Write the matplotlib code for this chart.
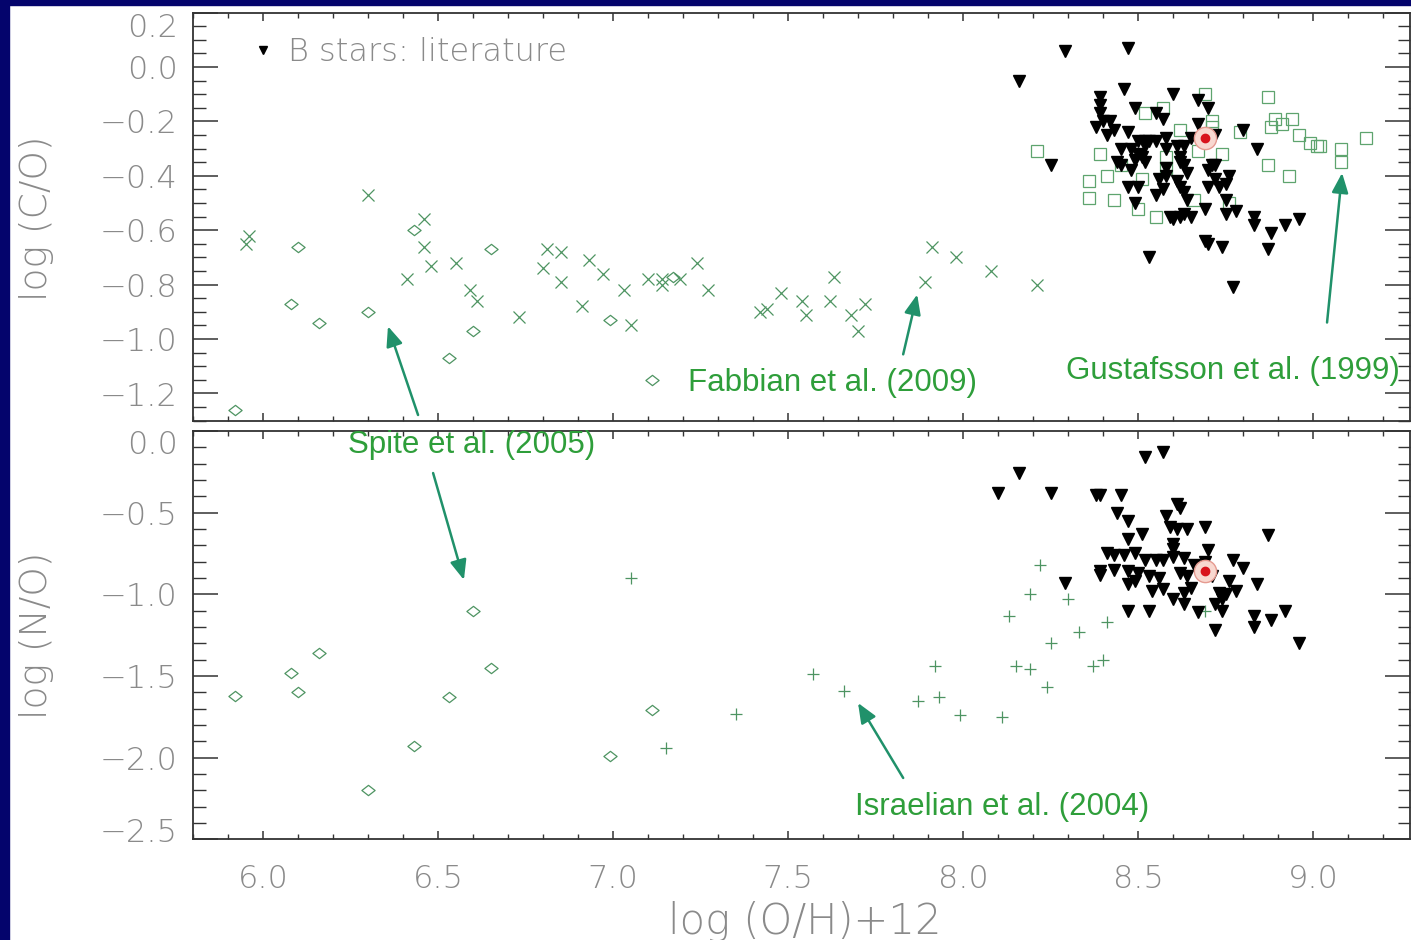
import numpy as np
import matplotlib
matplotlib.use("Agg")
import matplotlib.pyplot as plt
import matplotlib.transforms as mtransforms
from matplotlib.path import Path
from matplotlib.patches import Rectangle
from matplotlib.lines import Line2D
from matplotlib.ticker import MultipleLocator

# --- data: (log(O/H)+12, log ratio) ---
# B stars from the literature, log(C/O)
bstars_co = [
    (8.29, 0.06), (8.47, 0.07), (8.16, -0.05), (8.46, -0.08), (8.60, -0.10), (8.67, -0.12),
    (8.70, -0.15), (8.39, -0.11), (8.39, -0.14), (8.39, -0.17), (8.38, -0.22), (8.40, -0.20),
    (8.42, -0.20), (8.43, -0.23), (8.41, -0.25), (8.49, -0.15), (8.55, -0.17), (8.57, -0.19),
    (8.47, -0.24), (8.67, -0.21), (8.80, -0.23), (8.84, -0.30), (8.25, -0.36), (8.50, -0.27),
    (8.52, -0.27), (8.53, -0.27), (8.55, -0.27), (8.58, -0.26), (8.61, -0.29), (8.63, -0.29),
    (8.65, -0.26), (8.72, -0.25), (8.45, -0.30), (8.48, -0.30), (8.52, -0.29), (8.50, -0.32),
    (8.58, -0.30), (8.62, -0.33), (8.71, -0.36), (8.72, -0.36), (8.44, -0.35), (8.45, -0.36),
    (8.49, -0.34), (8.51, -0.33), (8.52, -0.35), (8.58, -0.37), (8.62, -0.35), (8.63, -0.36),
    (8.70, -0.38), (8.48, -0.38), (8.56, -0.41), (8.58, -0.40), (8.61, -0.42), (8.64, -0.39),
    (8.72, -0.41), (8.76, -0.40), (8.47, -0.44), (8.50, -0.44), (8.55, -0.47), (8.57, -0.45),
    (8.62, -0.44), (8.63, -0.46), (8.70, -0.44), (8.73, -0.44), (8.75, -0.43), (8.49, -0.50),
    (8.64, -0.49), (8.69, -0.52), (8.75, -0.49), (8.78, -0.53), (8.59, -0.55), (8.60, -0.56),
    (8.62, -0.55), (8.63, -0.54), (8.65, -0.55), (8.75, -0.54), (8.83, -0.55), (8.83, -0.58),
    (8.88, -0.61), (8.92, -0.58), (8.96, -0.56), (8.69, -0.64), (8.70, -0.65), (8.74, -0.66),
    (8.87, -0.67), (8.53, -0.70), (8.77, -0.81),
]

# Gustafsson et al. (1999), log(C/O)
gustafsson_co = [
    (8.21, -0.31), (8.87, -0.11), (8.69, -0.10), (8.57, -0.15), (8.52, -0.17), (8.71, -0.20),
    (8.71, -0.22), (8.62, -0.23), (8.79, -0.24), (8.89, -0.19), (8.91, -0.21), (8.94, -0.19),
    (8.88, -0.22), (8.96, -0.25), (8.99, -0.28), (9.01, -0.29), (9.02, -0.29), (9.08, -0.30),
    (9.08, -0.35), (9.15, -0.26), (8.39, -0.32), (8.41, -0.40), (8.36, -0.42), (8.36, -0.48),
    (8.43, -0.49), (8.50, -0.52), (8.55, -0.55), (8.51, -0.41), (8.58, -0.37), (8.67, -0.31),
    (8.74, -0.32), (8.87, -0.36), (8.93, -0.40), (8.76, -0.50), (8.66, -0.49), (8.45, -0.36),
    (8.58, -0.33),
]

# Fabbian et al. (2009), log(C/O)
fabbian_co = [
    (6.30, -0.47), (5.95, -0.65), (5.96, -0.62), (6.46, -0.56), (6.46, -0.66), (6.48, -0.73),
    (6.41, -0.78), (6.55, -0.72), (6.59, -0.82), (6.61, -0.86), (6.81, -0.67), (6.85, -0.68),
    (6.80, -0.74), (6.85, -0.79), (6.93, -0.71), (6.97, -0.76), (7.03, -0.82), (6.91, -0.88),
    (6.73, -0.92), (7.05, -0.95), (7.10, -0.78), (7.14, -0.78), (7.14, -0.80), (7.19, -0.78),
    (7.24, -0.72), (7.27, -0.82), (7.42, -0.90), (7.44, -0.89), (7.48, -0.83), (7.54, -0.86),
    (7.55, -0.91), (7.63, -0.77), (7.62, -0.86), (7.68, -0.91), (7.72, -0.87), (7.70, -0.97),
    (7.89, -0.79), (7.91, -0.66), (7.98, -0.70), (8.08, -0.75), (8.21, -0.80),
]

# Spite et al. (2005), log(C/O) and log(N/O)
spite_co = [
    (5.92, -1.26), (6.10, -0.66), (6.08, -0.87), (6.16, -0.94), (6.30, -0.90), (6.43, -0.60),
    (6.60, -0.97), (6.53, -1.07), (6.65, -0.67), (6.99, -0.93), (7.17, -0.77), (7.11, -1.15),
]
spite_no = [
    (5.92, -1.62), (6.08, -1.48), (6.10, -1.60), (6.16, -1.36), (6.30, -2.20), (6.43, -1.93),
    (6.53, -1.63), (6.60, -1.10), (6.65, -1.45), (6.99, -1.99), (7.11, -1.71),
]

# Israelian et al. (2004), log(N/O)
israelian_no = [
    (7.05, -0.90), (7.15, -1.94), (7.35, -1.73), (7.57, -1.49), (7.66, -1.59), (7.92, -1.44),
    (7.87, -1.65), (7.93, -1.63), (7.99, -1.74), (8.11, -1.75), (8.22, -0.82), (8.19, -1.00),
    (8.30, -1.03), (8.13, -1.13), (8.41, -1.17), (8.33, -1.23), (8.25, -1.30), (8.15, -1.44),
    (8.19, -1.46), (8.37, -1.44), (8.40, -1.40), (8.24, -1.57), (8.69, -1.10),
]

# B stars from the literature, log(N/O)
bstars_no = [
    (8.52, -0.16), (8.57, -0.13), (8.16, -0.26), (8.10, -0.38), (8.25, -0.38), (8.38, -0.39),
    (8.39, -0.39), (8.45, -0.39), (8.61, -0.45), (8.62, -0.47), (8.44, -0.50), (8.47, -0.55),
    (8.58, -0.52), (8.59, -0.59), (8.61, -0.60), (8.64, -0.60), (8.69, -0.59), (8.51, -0.63),
    (8.47, -0.66), (8.60, -0.69), (8.60, -0.72), (8.87, -0.64), (8.70, -0.73), (8.41, -0.75),
    (8.43, -0.76), (8.46, -0.76), (8.49, -0.75), (8.52, -0.79), (8.55, -0.79), (8.57, -0.79),
    (8.60, -0.77), (8.63, -0.78), (8.66, -0.82), (8.69, -0.80), (8.77, -0.79), (8.80, -0.84),
    (8.39, -0.86), (8.39, -0.88), (8.43, -0.85), (8.47, -0.86), (8.50, -0.87), (8.47, -0.94),
    (8.49, -0.92), (8.53, -0.89), (8.56, -0.90), (8.62, -0.87), (8.64, -0.89), (8.71, -0.89),
    (8.76, -0.92), (8.84, -0.94), (8.54, -0.98), (8.57, -0.97), (8.60, -1.03), (8.63, -0.99),
    (8.65, -0.96), (8.63, -1.06), (8.73, -0.99), (8.74, -1.03), (8.75, -1.00), (8.78, -0.98),
    (8.72, -1.06), (8.74, -1.10), (8.47, -1.10), (8.53, -1.10), (8.67, -1.11), (8.92, -1.10),
    (8.83, -1.13), (8.88, -1.16), (8.83, -1.20), (8.72, -1.22), (8.96, -1.30), (8.29, -0.93),
]

# solar values
sun_oh = 8.69
sun_co = -0.26
sun_no = -0.86

NAVY = "#04046c"
GREEN_MK = "#4e9462"
GREEN_TXT = "#2e9e3a"
ARROW = "#20916a"
GREY = "#8a8a8a"

plt.rcParams["font.family"] = ["DejaVu Sans"]
plt.rcParams["font.weight"] = 200

# flattened diamond like the IDL psym=4
diamond = Path([(-1, 0), (0, 0.78), (1, 0), (0, -0.78), (-1, 0)],
               [Path.MOVETO, Path.LINETO, Path.LINETO, Path.LINETO, Path.CLOSEPOLY])


def xy(pts):
    a = np.array(pts)
    return a[:, 0], a[:, 1]


def style_axis(ax, ymajor, yminor):
    ax.xaxis.set_major_locator(MultipleLocator(0.5))
    ax.xaxis.set_minor_locator(MultipleLocator(0.1))
    ax.yaxis.set_major_locator(MultipleLocator(ymajor))
    ax.yaxis.set_minor_locator(MultipleLocator(yminor))
    ax.tick_params(which="both", direction="in", top=True, right=True,
                   color="#333333", labelcolor=GREY, labelsize=23)
    ax.tick_params(axis="y", which="major", length=18, width=1.1, pad=11)
    ax.tick_params(axis="y", which="minor", length=9, width=1.0)
    ax.tick_params(axis="x", which="major", length=6, width=1.1, pad=18)
    ax.tick_params(axis="x", which="minor", length=3.5, width=1.0)
    for s in ax.spines.values():
        s.set_color("#333333")
        s.set_linewidth(1.3)


def nudge_label(ax, value, dy_px):
    # IDL keeps the end labels inside the axis range; shift them the same way
    for tick in ax.yaxis.get_major_ticks():
        if abs(tick.get_loc() - value) < 1e-6:
            off = mtransforms.ScaledTranslation(0, dy_px / 100, fig.dpi_scale_trans)
            tick.label1.set_transform(tick.label1.get_transform() + off)


fig = plt.figure(figsize=(14.11, 9.40), dpi=100)
fig.patches.append(Rectangle((0, 0), 9 / 1411, 1, transform=fig.transFigure,
                             color=NAVY, zorder=10))
fig.patches.append(Rectangle((0, 1 - 5 / 940), 1, 5 / 940, transform=fig.transFigure,
                             color=NAVY, zorder=10))

left, width = 193 / 1411, 1217 / 1411
ax1 = fig.add_axes([left, 1 - 420.7 / 940, width, 408 / 940])
ax2 = fig.add_axes([left, 1 - 839.4 / 940, width, 408.5 / 940], sharex=ax1)

# --- top panel: log(C/O) ---
x, y = xy(spite_co)
ax1.plot(x, y, ls="none", marker=diamond, ms=9.5, mfc="none", mec=GREEN_MK, mew=0.9)
x, y = xy(fabbian_co)
ax1.plot(x, y, ls="none", marker="x", ms=8, color=GREEN_MK, mew=0.9)
x, y = xy(gustafsson_co)
ax1.plot(x, y, ls="none", marker="s", ms=8.5, mfc="none", mec="#5ea46e", mew=0.9)
x, y = xy(bstars_co)
ax1.plot(x, y, ls="none", marker="v", ms=8.5, color="black")
ax1.plot(sun_oh, sun_co, "o", ms=16, mfc="#f8d8d0", mec="#e59a90", mew=1)
ax1.plot(sun_oh, sun_co, "o", ms=6, color="#d8141c")

ax1.set_xlim(5.8, 9.277)
ax1.set_ylim(-1.3, 0.2)
style_axis(ax1, 0.2, 0.05)
ax1.tick_params(labelbottom=False)

ax1.legend(handles=[Line2D([], [], ls="none", marker="v", ms=6, color="black")],
           labels=["B stars: literature"], loc="center left",
           bbox_to_anchor=((250 - 193) / 1217, 1 - (52 - 12.7) / 408),
           frameon=False, fontsize=23, handlelength=0.8, handletextpad=0.4,
           borderpad=0, borderaxespad=0, labelcolor=GREY)

# --- bottom panel: log(N/O) ---
x, y = xy(spite_no)
ax2.plot(x, y, ls="none", marker=diamond, ms=9.5, mfc="none", mec=GREEN_MK, mew=0.9)
x, y = xy(israelian_no)
ax2.plot(x, y, ls="none", marker="+", ms=9, color=GREEN_MK, mew=0.9)
x, y = xy(bstars_no)
ax2.plot(x, y, ls="none", marker="v", ms=8.5, color="black")
ax2.plot(sun_oh, sun_no, "o", ms=16, mfc="#f8d8d0", mec="#e59a90", mew=1)
ax2.plot(sun_oh, sun_no, "o", ms=6, color="#d8141c")

ax2.set_ylim(-2.5, 0.0)
style_axis(ax2, 0.5, 0.1)

# axis titles
fig.text(37 / 1411, 1 - 218 / 940, "log (C/O)", rotation=90, ha="center", va="center",
         fontsize=27, color=GREY)
fig.text(37 / 1411, 1 - 635 / 940, "log (N/O)", rotation=90, ha="center", va="center",
         fontsize=27, color=GREY)
fig.text(805 / 1411, 1 - 922 / 940, "log (O/H)+12", ha="center", va="center",
         fontsize=30, color=GREY)

# --- annotations ---
arrow_kw = dict(arrowstyle="-|>,head_length=0.6,head_width=0.25", color=ARROW, lw=1.8,
                shrinkA=0, shrinkB=0, mutation_scale=20)
txt_kw = dict(fontsize=22.5, color=GREEN_TXT, family="Liberation Sans", weight="normal",
              clip_on=False, va="center", zorder=5)

ax1.annotate("", xy=(6.357, -0.953), xytext=(6.443, -1.279), arrowprops=arrow_kw,
             annotation_clip=False)
ax2.annotate("", xy=(6.574, -0.912), xytext=(6.486, -0.258), arrowprops=arrow_kw,
             annotation_clip=False)
ax2.text(6.597, -0.086, "Spite et al. (2005)", ha="center", **txt_kw)

ax1.annotate("", xy=(7.869, -0.836), xytext=(7.829, -1.056), arrowprops=arrow_kw,
             annotation_clip=False)
ax1.text(7.214, -1.162, "Fabbian et al. (2009)", ha="left", **txt_kw)

ax1.annotate("", xy=(9.083, -0.389), xytext=(9.040, -0.939), arrowprops=arrow_kw,
             annotation_clip=False)
ax1.text(8.294, -1.118, "Gustafsson et al. (1999)", ha="left", **txt_kw)

ax2.annotate("", xy=(7.700, -1.665), xytext=(7.829, -2.124), arrowprops=arrow_kw,
             annotation_clip=False)
ax2.text(7.691, -2.302, "Israelian et al. (2004)", ha="left", **txt_kw)

# ticks get their positions on the first draw, so nudge the end labels after it
fig.canvas.draw()
nudge_label(ax1, 0.2, -12)
nudge_label(ax2, 0.0, -11)
nudge_label(ax2, -2.5, 9)

fig.savefig("out.png", dpi=100)
